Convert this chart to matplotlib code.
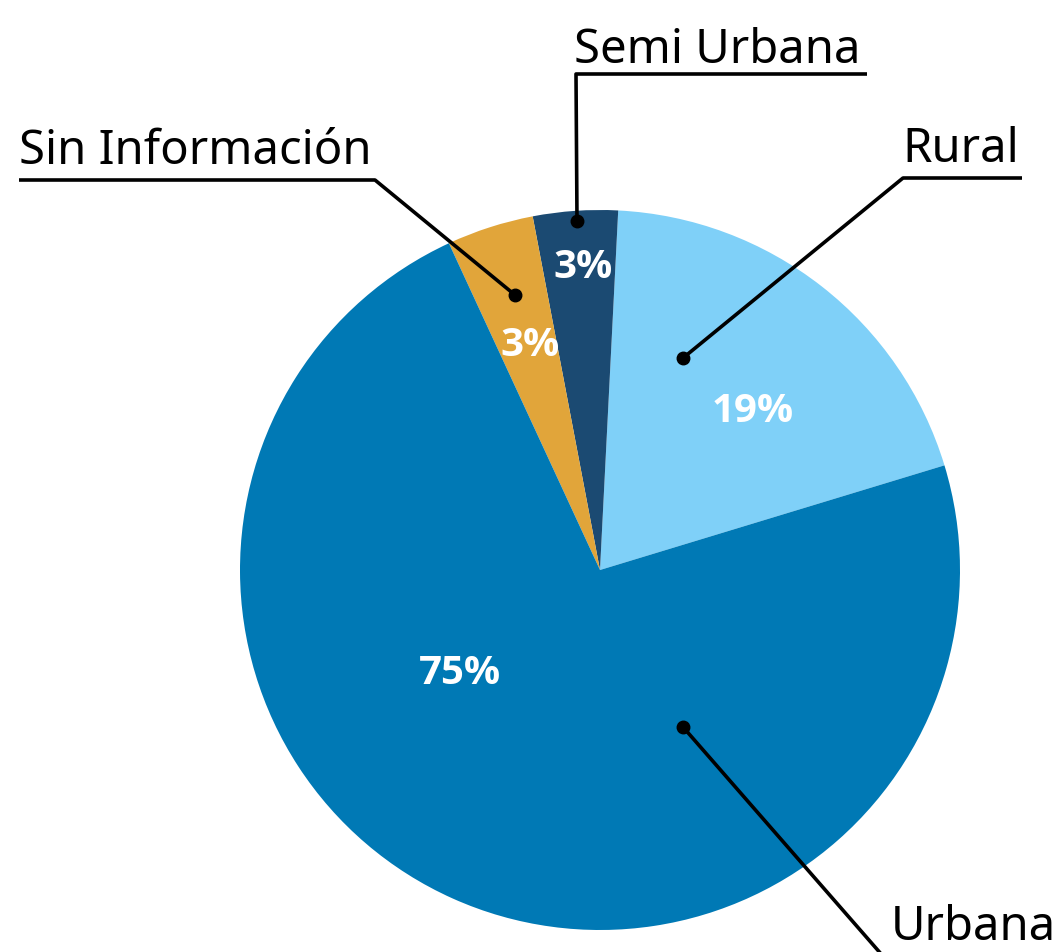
import matplotlib
matplotlib.use("Agg")
import matplotlib.pyplot as plt
import numpy as np

# ---- data (slice sizes, labels as printed) ----
categories = ["Rural", "Semi Urbana", "Sin Información", "Urbana"]
shares = [19.5, 3.8, 3.9, 72.8]
pct_labels = ["19%", "3%", "3%", "75%"]
colours = ["#7FD0F8", "#1B4A72", "#E1A53A", "#0079B5"]

FONT = ["Noto Sans", "DejaVu Sans"]
BOLD = ["Open Sans", "DejaVu Sans"]

# figure: 1063 x 952 px, pie centre at (600, 570) px, radius 360 px
W, H = 1063, 952
CX, CY, R = 600, 570, 360
fig = plt.figure(figsize=(W / 100, H / 100), dpi=100)
fig.patch.set_facecolor("white")
ax = fig.add_axes([0, 0, 1, 1])


def px(x, y):
    """pixel position (from top-left) -> data coords of the pie axes"""
    return (x - CX) / R, (CY - y) / R


ax.pie(shares, colors=colours, startangle=16.9, counterclock=True,
       radius=1, center=(0, 0), wedgeprops=dict(linewidth=0))
ax.set_xlim(-CX / R, (W - CX) / R)
ax.set_ylim(-(H - CY) / R, CY / R)
ax.set_aspect("auto")
ax.axis("off")

# percentage labels inside the slices
pct_pos = [(753, 412), (583, 268), (530, 345), (460, 674)]
for txt, (x, y) in zip(pct_labels, pct_pos):
    ax.text(*px(x, y), txt, color="white", fontsize=29, fontweight="bold",
            ha="center", va="center", family=BOLD)

# leader lines: dot inside slice -> elbow -> underline below label
LW = 2.6
leaders = {
    "Semi Urbana":     dict(path=[(577, 221), (576, 74), (867, 74)],
                            text=(574, 63), ha="left"),
    "Sin Información": dict(path=[(515, 295), (375, 180), (19, 180)],
                            text=(19, 164), ha="left"),
    "Rural":           dict(path=[(683, 358), (903, 178), (1022, 178)],
                            text=(1019, 162), ha="right"),
    "Urbana":          dict(path=[(683, 727), (882, 955)],
                            text=(1056, 940), ha="right"),
}
for name in categories:
    L = leaders[name]
    pts = np.array([px(x, y) for x, y in L["path"]])
    ax.plot(pts[:, 0], pts[:, 1], color="black", lw=LW,
            solid_capstyle="butt", zorder=5)
    ax.plot(pts[0, 0], pts[0, 1], "o", color="black", ms=9, zorder=6)
    ax.text(*px(*L["text"]), name, color="black", fontsize=34,
            ha=L["ha"], va="baseline", family=FONT, zorder=6)

fig.savefig("out.png", dpi=100, facecolor="white")
